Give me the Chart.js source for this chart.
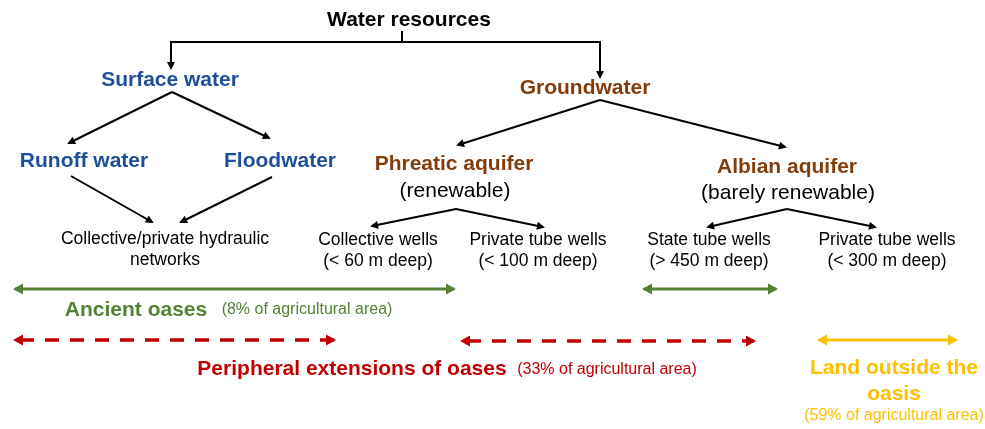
<!DOCTYPE html>
<html lang="en">
<head>
  <meta charset="UTF-8">
  <title>Water resources</title>
  <script src="https://cdn.jsdelivr.net/npm/chart.js"></script>
  <style>
    html, body { margin: 0; padding: 0; background: #fff; }
    #wrap { width: 985px; height: 429px; }
  </style>
</head>
<body>
<div id="wrap">
  <canvas id="myChart"></canvas>
</div>
<script>
// chart units: x 0..985, y 0..429 (top to bottom)

// text boxes
const nodeLabels = [
  ['Water resources'],
  ['Surface water'],
  ['Groundwater'],
  ['Runoff water'],
  ['Floodwater'],
  ['Collective/private hydraulic', 'networks'],
  ['Phreatic aquifer'],
  ['(renewable)'],
  ['Albian aquifer'],
  ['(barely renewable)'],
  ['Collective wells', '(< 60 m deep)'],
  ['Private tube wells', '(< 100 m deep)'],
  ['State tube wells', '(> 450 m deep)'],
  ['Private tube wells', '(< 300 m deep)'],
  ['Ancient oases'],
  ['(8% of agricultural area)'],
  ['Peripheral extensions of oases'],
  ['(33% of agricultural area)'],
  ['Land outside the', 'oasis'],
  ['(59% of agricultural area)']
];
const nodeX = [409, 170, 585, 84, 280, 165, 454, 455, 787, 788, 378, 538, 709, 887, 136, 307, 352, 607, 894, 894];
const nodeY = [20, 80, 88, 161, 161, 239, 164, 191, 167, 193, 240, 240, 240, 240, 310, 310, 369, 370, 368, 416];
const nodeKind = ['title', 'surface', 'ground', 'surface', 'surface', 'small', 'ground', 'sub', 'ground', 'sub',
  'small', 'small', 'small', 'small', 'ancient', 'ancientNote', 'periph', 'periphNote', 'outside', 'outsideNote'];

// tree arrows (polylines, head at the last point)
const treeLinks = [
  [[402, 31], [402, 42]],
  [[402, 42], [171, 42], [171, 68]],
  [[402, 42], [600, 42], [600, 77]],
  [[172, 92], [69, 143]],
  [[172, 92], [269, 138]],
  [[600, 100], [458, 145]],
  [[600, 100], [785, 147]],
  [[71, 176], [152, 222]],
  [[272, 177], [181, 222]],
  [[456, 209], [372, 226]],
  [[456, 209], [543, 227]],
  [[787, 209], [708, 227]],
  [[787, 209], [875, 227]]
];
const treeHeads = [false, true, true, true, true, true, true, true, true, true, true, true, true];

// area ranges (double arrows)
const rangeStart = [15, 644, 15, 462, 819];
const rangeEnd = [454, 776, 334, 754, 956];
const rangeY = [289, 289, 340, 341, 340];
const rangeKind = ['ancient', 'ancient', 'periph', 'periph', 'outside'];

const kindStyle = {
  title:       { font: 'bold 21px "Liberation Sans", Arial, sans-serif', color: '#000000', lh: 24 },
  surface:     { font: 'bold 21px "Liberation Sans", Arial, sans-serif', color: '#1F4E99', lh: 24 },
  ground:      { font: 'bold 21px "Liberation Sans", Arial, sans-serif', color: '#843C0C', lh: 24 },
  sub:         { font: '21px "Liberation Sans", Arial, sans-serif', color: '#000000', lh: 24 },
  small:       { font: '17.5px "Liberation Sans", Arial, sans-serif', color: '#000000', lh: 21 },
  ancient:     { font: 'bold 21px "Liberation Sans", Arial, sans-serif', color: '#548235', lh: 24 },
  ancientNote: { font: '16px "Liberation Sans", Arial, sans-serif', color: '#548235', lh: 20 },
  periph:      { font: 'bold 21px "Liberation Sans", Arial, sans-serif', color: '#C00000', lh: 24 },
  periphNote:  { font: '16px "Liberation Sans", Arial, sans-serif', color: '#C00000', lh: 20 },
  outside:     { font: 'bold 21px "Liberation Sans", Arial, sans-serif', color: '#FFC000', lh: 26 },
  outsideNote: { font: '16px "Liberation Sans", Arial, sans-serif', color: '#FFC000', lh: 20 }
};
const rangeStyle = {
  ancient: { color: '#548235', width: 3, dash: [], offset: 0 },
  periph:  { color: '#C00000', width: 3.5, dash: [14, 11], offset: 20 },
  outside: { color: '#FFC000', width: 3, dash: [], offset: 0 }
};

const datasets = [];
treeLinks.forEach(function (pts, i) {
  datasets.push({
    data: pts.map(function (p) { return { x: p[0], y: p[1] }; }),
    showLine: true,
    borderColor: '#000000',
    borderWidth: 2,
    pointRadius: 0,
    heads: treeHeads[i] ? 'end' : 'none',
    headLen: 8,
    headW: 4
  });
});
for (let i = 0; i < rangeStart.length; ++i) {
  const st = rangeStyle[rangeKind[i]];
  datasets.push({
    data: [{ x: rangeStart[i], y: rangeY[i] }, { x: rangeEnd[i], y: rangeY[i] }],
    showLine: true,
    borderColor: st.color,
    borderWidth: st.width,
    borderDash: st.dash,
    borderDashOffset: st.offset,
    pointRadius: 0,
    heads: 'both',
    headLen: 10,
    headW: 5.5
  });
}

function drawHead(ctx, tip, from, len, w, color) {
  const a = Math.atan2(tip.y - from.y, tip.x - from.x);
  const tx = tip.x + Math.cos(a) * 2, ty = tip.y + Math.sin(a) * 2;
  const bx = tx - Math.cos(a) * len, by = ty - Math.sin(a) * len;
  ctx.beginPath();
  ctx.moveTo(tx, ty);
  ctx.lineTo(bx - Math.sin(a) * w, by + Math.cos(a) * w);
  ctx.lineTo(bx + Math.sin(a) * w, by - Math.cos(a) * w);
  ctx.closePath();
  ctx.fillStyle = color;
  ctx.fill();
}

const arrowHeads = {
  id: 'arrowHeads',
  afterDatasetsDraw(chart) {
    const ctx = chart.ctx;
    chart.data.datasets.forEach(function (ds, i) {
      if (ds.heads === 'none') return;
      const pts = chart.getDatasetMeta(i).data;
      const n = pts.length;
      ctx.save();
      drawHead(ctx, pts[n - 1], pts[n - 2], ds.headLen, ds.headW, ds.borderColor);
      if (ds.heads === 'both') drawHead(ctx, pts[0], pts[1], ds.headLen, ds.headW, ds.borderColor);
      ctx.restore();
    });
  }
};

const nodeText = {
  id: 'nodeText',
  afterDraw(chart) {
    const ctx = chart.ctx;
    const xs = chart.scales.x, ys = chart.scales.y;
    ctx.save();
    ctx.textAlign = 'center';
    ctx.textBaseline = 'middle';
    nodeLabels.forEach(function (lines, i) {
      const st = kindStyle[nodeKind[i]];
      ctx.font = st.font;
      ctx.fillStyle = st.color;
      lines.forEach(function (t, j) {
        ctx.fillText(t, xs.getPixelForValue(nodeX[i]), ys.getPixelForValue(nodeY[i] + j * st.lh));
      });
    });
    ctx.restore();
  }
};

const config = {
  type: 'scatter',
  data: { datasets: datasets },
  options: {
    responsive: true,
    maintainAspectRatio: false,
    animation: false,
    events: [],
    layout: { padding: 0 },
    scales: {
      x: { type: 'linear', min: 0, max: 985, display: false },
      y: { type: 'linear', min: 0, max: 429, reverse: true, display: false }
    },
    plugins: {
      legend: { display: false },
      tooltip: { enabled: false }
    }
  },
  plugins: [arrowHeads, nodeText]
};

const myChart = new Chart(document.getElementById('myChart'), config);
</script>
</body>
</html>
